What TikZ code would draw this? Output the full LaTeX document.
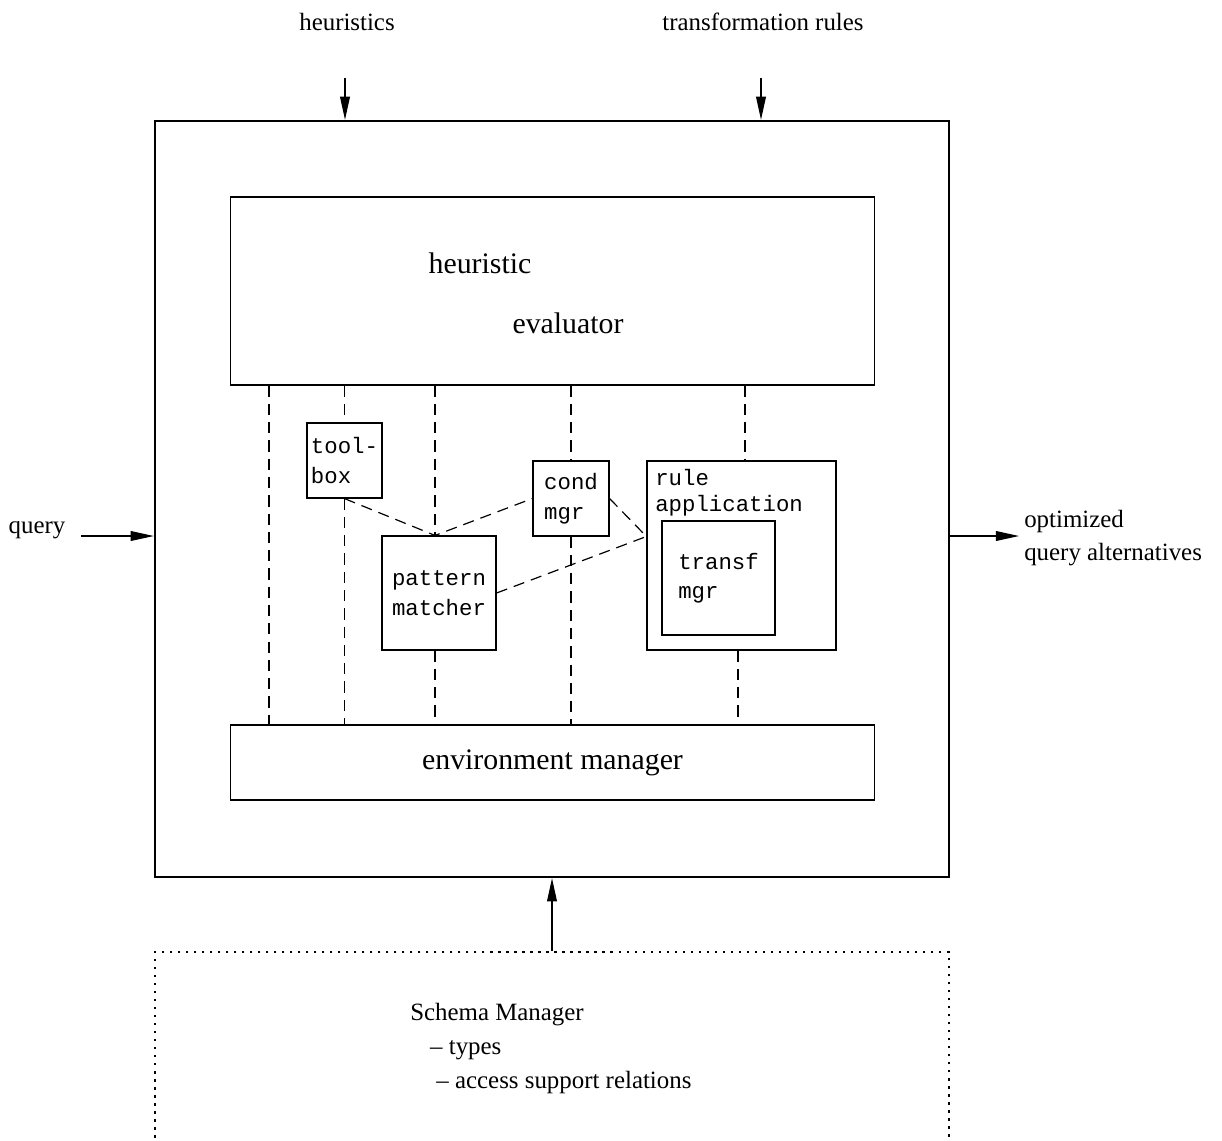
\documentclass[tikz,border=0pt]{standalone}
\usepackage{fontspec}
\setmainfont{Liberation Serif}
\setmonofont{Liberation Mono}
\usepackage{tikz}
\usetikzlibrary{calc, positioning, arrows.meta}

\begin{document}
\begin{tikzpicture}[
  x=0.025cm, y=-0.025cm,
  blk/.style={draw, line width=0.8pt, inner sep=0pt},
  mono/.style={font=\ttfamily\fontsize{15.9}{21}\selectfont, align=left},
  lbl/.style={font=\fontsize{17.7}{24}\selectfont, inner sep=0pt},
  big/.style={font=\fontsize{21.2}{26}\selectfont, inner sep=0pt},
  dsh/.style={dash pattern=on 8pt off 5pt, line width=0.85pt},
  arw/.style={-{Triangle[length=16.5pt, width=7pt]}, line width=0.8pt},
]
\useasboundingbox (0,0) rectangle (1222,1140);

% optimizer frame and inputs
\node[draw, line width=1.6pt, inner sep=0pt, minimum width=19.85cm,
  minimum height=18.9cm] (outer) at (552,499) {};
\node[lbl] (hlbl) at (347,22) {heuristics};
\node[lbl] (tlbl) at (763,22) {transformation rules};
\node[lbl] (qry) at (37,530) {query};
\node[lbl, anchor=west, align=left] (qalt) at (1024,538) {optimized\\query alternatives};

% inner components
\node[blk, minimum width=16.075cm, minimum height=4.7cm] (heval) at (552.5,291) {};
\node[big] (heur) at (480,263) {heuristic};
\node[big] (evalr) at (568,323) {evaluator};
\node[blk, big, minimum width=16.075cm, minimum height=1.875cm] (envmgr) at (552.5,762.5)
  {environment manager};
\node[blk, mono, minimum width=1.875cm, minimum height=1.875cm] (toolbox) at (344.5,460.5)
  {tool-\\box};
\node[blk, mono, minimum width=1.9cm, minimum height=1.875cm] (condmgr) at (571,498.5)
  {cond\\mgr};
\node[blk, mono, minimum width=2.85cm, minimum height=2.85cm] (patmatch) at (439,593)
  {pattern\\matcher};
\node[blk, minimum width=4.725cm, minimum height=4.725cm] (ruleapp) at (741.5,555.5) {};
\node[mono, font=\ttfamily\fontsize{15.9}{18.5}\selectfont, anchor=north west, inner sep=0pt]
  (ruletxt) at (655,469) {rule\\application};
\node[blk, mono, minimum width=2.825cm, minimum height=2.85cm] (transf) at (718.5,578)
  {transf\\mgr};

\coordinate (x1) at (269,0);
\coordinate (x3) at (435,0);
\coordinate (x5) at (745,0);
\coordinate (x6) at (738,0);
\coordinate (rj) at ($(ruleapp.north west)!0.4!(ruleapp.south west)$);

\draw[dsh] (heval.south -| x1) -- (envmgr.north -| x1);
\draw[dsh] (heval.south -| toolbox) -- (toolbox.north);
\draw[dsh] (toolbox.south) -- (envmgr.north -| toolbox);
\draw[dsh] (heval.south -| x3) -- (patmatch.north -| x3);
\draw[dsh] (patmatch.south -| x3) -- (envmgr.north -| x3);
\draw[dsh] (heval.south -| condmgr) -- (condmgr.north);
\draw[dsh] (condmgr.south) -- (envmgr.north -| condmgr);
\draw[dsh] (heval.south -| x5) -- (ruleapp.north -| x5);
\draw[dsh] (ruleapp.south -| x6) -- (envmgr.north -| x6);
\draw[dsh] (toolbox.south) -- (patmatch.north -| x3) -- (condmgr.west);
\draw[dsh] (condmgr.east) -- (rj);
\draw[dsh] (patmatch.east) -- (rj);

% schema manager
\node[draw, dash pattern=on 1.6pt off 4.1pt, line width=1.6pt, inner sep=0pt,
  minimum width=19.85cm, minimum height=6.2cm] (schema) at (552,1076) {};
\node[lbl, anchor=north west, align=left] (schtxt) at (410,1003)
  {Schema Manager\\\hspace*{0.8em}-- types\\\hspace*{1.05em}-- access support relations};

\coordinate (hin) at (345,78);
\coordinate (tin) at (761,78);
\coordinate (qin) at (81,536);
\coordinate (qout) at (1019,536);
\draw[arw] (hin) -- (hin |- outer.north);
\draw[arw] (tin) -- (tin |- outer.north);
\draw[arw] (qin) -- (qin -| outer.west);
\draw[arw] (qout -| outer.east) -- (qout);
\draw[arw] (schema.north) -- (outer.south);
\end{tikzpicture}
\end{document}
